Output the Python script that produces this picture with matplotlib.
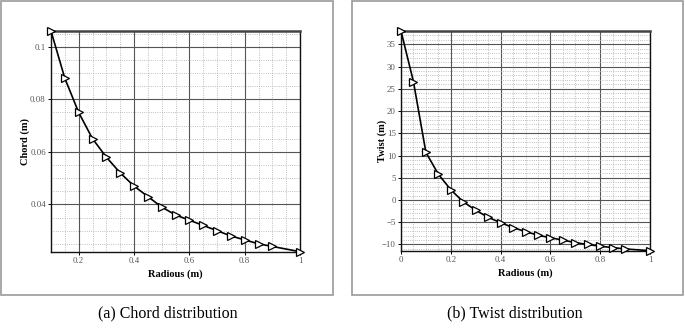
import matplotlib
matplotlib.use("Agg")
import matplotlib.pyplot as plt
from matplotlib.patches import Rectangle
from matplotlib.ticker import MultipleLocator

plt.rcParams['font.family'] = ['Liberation Serif', 'DejaVu Serif']

# chord distribution (0.95 station is not shown in the original)
chord_r = [0.1, 0.15, 0.2, 0.25, 0.3, 0.35, 0.4, 0.45, 0.5, 0.55,
           0.6, 0.65, 0.7, 0.75, 0.8, 0.85, 0.9, 1.0]
chord_c = [0.106, 0.088, 0.075, 0.065, 0.058, 0.052, 0.047, 0.043, 0.039, 0.036,
           0.034, 0.032, 0.030, 0.028, 0.0265, 0.025, 0.024, 0.022]

# twist distribution
twist_r = [0.0, 0.05, 0.1, 0.15, 0.2, 0.25, 0.3, 0.35, 0.4, 0.45,
           0.5, 0.55, 0.6, 0.65, 0.7, 0.75, 0.8, 0.85, 0.9, 1.0]
twist_t = [38.0, 26.6, 10.7, 5.8, 2.3, -0.4, -2.3, -3.9, -5.1, -6.2,
           -7.1, -7.9, -8.5, -9.0, -9.6, -10.0, -10.4, -10.7, -11.0, -11.4]

fig = plt.figure(figsize=(6.85, 3.29), dpi=100)
W, H = 685, 329


def fig_rect(x0, y0, x1, y1):
    # pixel box (top-left origin) -> figure fraction
    return [x0 / W, 1 - y1 / H, (x1 - x0) / W, (y1 - y0) / H]


# light gray frames around each panel
for bx0, bx1 in [(1, 333), (352, 683)]:
    l, b, w, h = fig_rect(bx0, 1, bx1, 295)
    fig.patches.append(Rectangle((l, b), w, h, transform=fig.transFigure,
                                 fill=False, edgecolor='#999999', linewidth=1.2))


def style_axes(ax, xmaj, xmin, ymaj, ymin):
    ax.xaxis.set_major_locator(MultipleLocator(xmaj))
    ax.xaxis.set_minor_locator(MultipleLocator(xmin))
    ax.yaxis.set_major_locator(MultipleLocator(ymaj))
    ax.yaxis.set_minor_locator(MultipleLocator(ymin))
    ax.grid(which='major', color='#555555', linewidth=0.8, linestyle='-')
    ax.grid(which='minor', color='#aaaaaa', linewidth=0.6, linestyle=':')
    ax.set_axisbelow(True)
    ax.tick_params(which='major', direction='out', length=2.5, width=0.7,
                   labelsize=6.3, labelcolor='#555555', pad=1.2)
    ax.tick_params(which='minor', length=0)
    for s in ax.spines.values():
        s.set_color('#111111')
        s.set_linewidth(1.0)
    ax.spines['top'].set_color('#444444')
    ax.spines['top'].set_linewidth(1.8)


marker_style = dict(color='black', linewidth=1.2, marker='>', markersize=5.5,
                    markerfacecolor='white', markeredgecolor='black',
                    markeredgewidth=0.9, clip_on=False, zorder=3)

ax1 = fig.add_axes(fig_rect(51, 31, 300, 251.7))
ax1.plot(chord_r, chord_c, **marker_style)
ax1.set_xlim(0.1, 1.0)
ax1.set_ylim(0.022, 0.106)
style_axes(ax1, 0.2, 0.05, 0.02, 0.005)
ax1.set_xticks([0.2, 0.4, 0.6, 0.8, 1.0])
ax1.set_xticklabels(['0.2', '0.4', '0.6', '0.8', '1'])
ax1.set_yticks([0.04, 0.06, 0.08, 0.1])
ax1.set_yticklabels(['0.04', '0.06', '0.08', '0.1'])
ax1.set_xlabel('Radious (m)', fontsize=7.5, fontweight='bold', labelpad=3)
ax1.set_ylabel('Chord (m)', fontsize=7.5, fontweight='bold', va='center')
ax1.yaxis.set_label_coords(-0.105, 0.5)

ax2 = fig.add_axes(fig_rect(401, 31, 650, 250.7))
ax2.plot(twist_r, twist_t, **marker_style)
ax2.set_xlim(0.0, 1.0)
ax2.set_ylim(-11.4, 38.0)
style_axes(ax2, 0.2, 0.05, 5, 1)
ax2.set_xticks([0, 0.2, 0.4, 0.6, 0.8, 1.0])
ax2.set_xticklabels(['0', '0.2', '0.4', '0.6', '0.8', '1'])
ax2.set_yticks(list(range(-10, 40, 5)))
ax2.set_xlabel('Radious (m)', fontsize=7.5, fontweight='bold', labelpad=3)
ax2.set_ylabel('Twist (m)', fontsize=7.5, fontweight='bold', va='center')
ax2.yaxis.set_label_coords(-0.075, 0.5)

fig.text(168 / W, 1 - 313 / H, '(a) Chord distribution', ha='center', va='center',
         fontsize=11.5)
fig.text(515 / W, 1 - 313 / H, '(b) Twist distribution', ha='center', va='center',
         fontsize=11.5)

fig.savefig('out.png', dpi=100, facecolor='white')
